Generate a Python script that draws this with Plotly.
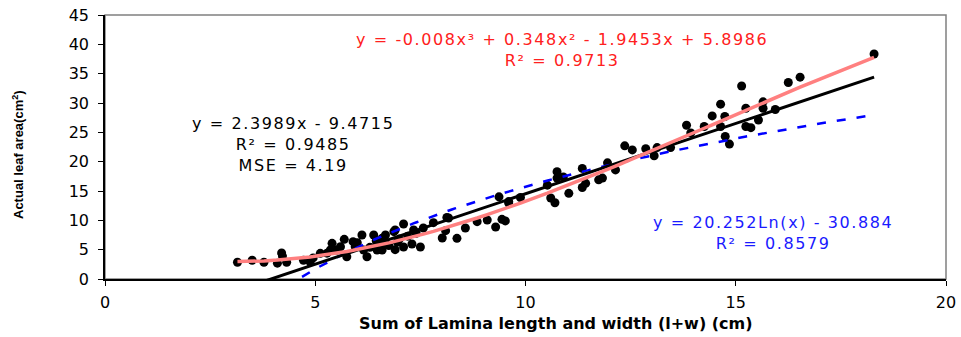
import numpy as np
import plotly.graph_objects as go

# Observed data: sum of lamina length and width (cm) vs actual leaf area (cm^2)
lw_sum = [3.15, 3.5, 3.78, 4.1, 4.2, 4.22, 4.32, 4.72, 4.88, 4.95,
          5.12, 5.28, 5.36, 5.4, 5.52, 5.6, 5.69, 5.75, 5.9, 5.95,
          6.0, 6.11, 6.15, 6.23, 6.3, 6.39, 6.45, 6.47, 6.59, 6.6,
          6.59, 6.67, 6.75, 6.87, 6.9, 6.9, 6.95, 7.0, 7.1, 7.1,
          7.2, 7.3, 7.34, 7.4, 7.5, 7.57, 7.81, 8.02, 8.1, 8.13,
          8.17, 8.37, 8.57, 8.85, 9.09, 9.29, 9.37, 9.44, 9.52, 9.6,
          9.6, 9.88, 10.52, 10.6, 10.7, 10.75, 10.75, 10.9, 11.03, 11.35,
          11.35, 11.43, 11.74, 11.83, 11.95, 12.14, 12.36, 12.54, 12.86, 13.06,
          13.13, 13.45, 13.83, 13.93, 14.25, 14.44, 14.64, 14.64, 14.74, 14.75,
          14.85, 15.14, 15.24, 15.24, 15.36, 15.54, 15.65, 15.65, 15.94, 16.25,
          16.53, 18.29]
leaf_area = [2.85, 3.2, 2.85, 2.7, 4.45, 3.9, 2.85, 3.2, 2.9, 3.6,
             4.37, 4.4, 4.94, 6.08, 4.94, 5.5, 6.76, 3.8, 6.36, 5.5,
             6.2, 7.5, 4.94, 3.8, 5.4, 7.5, 6.5, 4.94, 6.93, 6.1,
             4.94, 7.5, 5.7, 8.07, 5.0, 8.35, 6.3, 6.8, 9.37, 5.45,
             7.3, 5.97, 8.35, 7.8, 5.45, 8.69, 9.6, 6.98, 8.24, 10.5,
             10.4, 6.93, 8.69, 9.77, 10.06, 8.86, 14.0, 10.17, 9.9, 13.2,
             12.95, 13.9, 16.0, 13.8, 13.0, 18.3, 17.2, 17.4, 14.6, 18.85,
             15.6, 16.3, 16.9, 17.2, 19.8, 18.6, 22.7, 22.0, 22.2, 21.0,
             22.4, 22.4, 26.2, 24.9, 26.0, 27.8, 29.8, 26.0, 27.7, 24.3,
             23.0, 32.9, 29.1, 26.0, 25.8, 27.1, 30.2, 29.1, 28.9, 33.5,
             34.4, 38.35]

# Trendline coefficients shown on the chart
lin_coef = [2.3989, -9.4715]                    # y = a x + b
log_coef = [20.252, -30.884]                    # y = a ln(x) + b
poly_coef = [-0.008, 0.348, -1.9453, 5.8986]    # cubic

lin_label = ["y = 2.3989x - 9.4715", "R² = 0.9485", "MSE = 4.19"]
log_label = ["y = 20.252Ln(x) - 30.884", "R² = 0.8579"]
poly_label = ["y = -0.008x³ + 0.348x² - 1.9453x + 5.8986", "R² = 0.9713"]

x_title = "Sum of Lamina length and width (l+w) (cm)"
y_title = "Actual leaf area(cm<sup>2</sup>)"

x_ticks = [0, 5, 10, 15, 20]
y_ticks = [0, 5, 10, 15, 20, 25, 30, 35, 40, 45]

xs = np.sort(np.array(lw_sum))
xfit = np.linspace(xs.min(), xs.max(), 200)
y_lin = np.polyval(lin_coef, xfit)
y_log = log_coef[0] * np.log(xfit) + log_coef[1]
y_poly = np.polyval(poly_coef, xs)

FONT = "DejaVu Sans"

def spaced(lines, ls):
    return "<br>".join('<span style="letter-spacing:%spx">%s</span>' % (ls, t) for t in lines)

fig = go.Figure()
fig.add_trace(go.Scatter(x=lw_sum, y=leaf_area, mode="markers",
                         marker=dict(color="black", size=9), showlegend=False))
fig.add_trace(go.Scatter(x=xfit, y=y_log, mode="lines",
                         line=dict(color="#0000ff", width=2.5, dash="9px,11px"),
                         showlegend=False))
fig.add_trace(go.Scatter(x=xfit, y=y_lin, mode="lines",
                         line=dict(color="black", width=3), showlegend=False))
fig.add_trace(go.Scatter(x=xs, y=y_poly, mode="lines",
                         line=dict(color="#ff8080", width=3.5), showlegend=False))

fig.add_annotation(x=10.86, y=38.95, xref="x", yref="y", showarrow=False,
                   text=spaced(poly_label, 1.6),
                   font=dict(family=FONT, size=16, color="#ff2020"), align="center")
fig.add_annotation(x=4.48, y=22.93, xref="x", yref="y", showarrow=False,
                   text=spaced(lin_label, 1.6),
                   font=dict(family=FONT, size=16, color="black"), align="center")
fig.add_annotation(x=15.88, y=7.76, xref="x", yref="y", showarrow=False,
                   text=spaced(log_label, 1.6),
                   font=dict(family=FONT, size=16, color="#1a1aff"), align="center")

# axis titles (paper coords span the plot area: x 105..946 px, y 279..15 px)
fig.add_annotation(x=(556 - 105) / 841, y=(279 - 323) / 264, xref="paper", yref="paper",
                   xanchor="center", yanchor="middle", showarrow=False,
                   text="<b>%s</b>" % x_title,
                   font=dict(family=FONT, size=16, color="black"))
fig.add_annotation(x=(18 - 105) / 841, y=(279 - 155) / 264, xref="paper", yref="paper",
                   xanchor="center", yanchor="middle", showarrow=False, textangle=-90,
                   text="<b>%s</b>" % y_title,
                   font=dict(family="Liberation Sans", size=13, color="black"))

fig.add_shape(type="rect", xref="paper", yref="paper", x0=0, y0=0, x1=1, y1=1,
              line=dict(color="#808080", width=1.5), layer="below")

fig.update_layout(
    width=961, height=337,
    margin=dict(l=105, r=15, t=15, b=58, autoexpand=False),
    paper_bgcolor="white", plot_bgcolor="white",
    font=dict(family=FONT, color="black"),
    xaxis=dict(range=[0, 20], tickvals=x_ticks, ticktext=[str(v) for v in x_ticks],
               showline=True, linecolor="black", linewidth=1.5, automargin=False,
               ticks="outside", ticklen=5, tickcolor="black", tickwidth=1,
               showgrid=False, zeroline=False, ticklabelstandoff=3,
               tickfont=dict(family=FONT, size=16)),
    yaxis=dict(range=[0, 45], tickvals=y_ticks, ticktext=[str(v) for v in y_ticks],
               showline=True, linecolor="black", linewidth=1.5, automargin=False,
               ticks="outside", ticklen=5, tickcolor="black", tickwidth=1,
               showgrid=False, zeroline=False, ticklabelstandoff=6,
               tickfont=dict(family=FONT, size=16)),
)

fig.write_html("out.html")
